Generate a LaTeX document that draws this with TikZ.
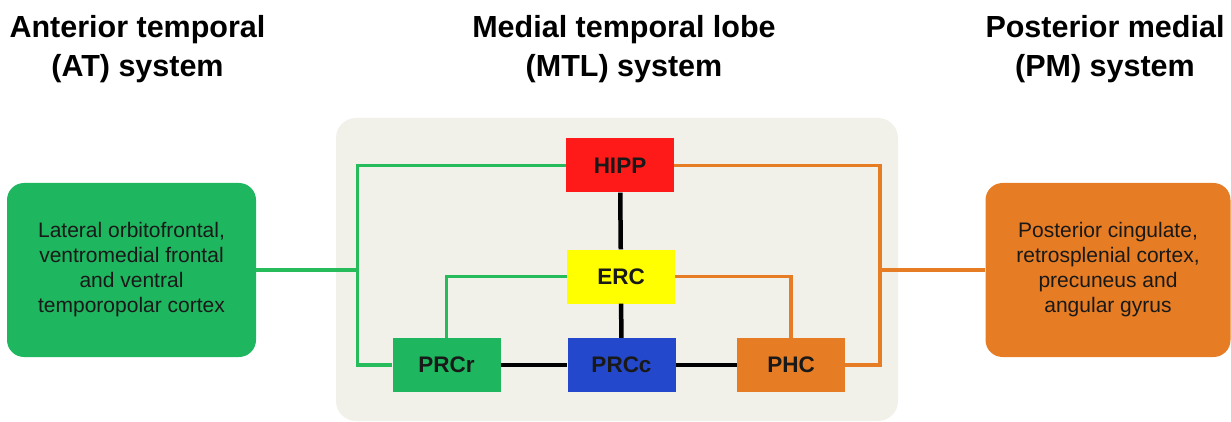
\documentclass[tikz,border=0pt]{standalone}
\usepackage{fontspec}
\setmainfont{Liberation Sans}
\definecolor{cgreen}{RGB}{30,183,95}
\definecolor{lgreen}{RGB}{38,188,92}
\definecolor{cred}{RGB}{255,26,26}
\definecolor{cyellow}{RGB}{255,255,0}
\definecolor{cblue}{RGB}{36,72,204}
\definecolor{corange}{RGB}{230,124,36}
\definecolor{cpanel}{RGB}{241,240,233}
\definecolor{ctext}{RGB}{25,25,25}
\begin{document}
\begin{tikzpicture}[x=1pt,y=-1pt,
  regbox/.style={rectangle, minimum width=108pt, minimum height=54pt, inner sep=0pt,
    font=\fontsize{22.5}{27}\selectfont\bfseries, text=ctext},
  sysbox/.style={rectangle, rounded corners=17pt, minimum width=249pt, minimum height=174pt,
    inner sep=0pt, align=center, font=\fontsize{21}{25}\selectfont, text=ctext},
  titletext/.style={align=center, font=\fontsize{30.5}{39}\selectfont\bfseries, anchor=north,
    inner sep=0pt, text=black},
  gline/.style={draw=lgreen, line width=3.8pt, line join=miter},
  oline/.style={draw=corange, line width=3.8pt, line join=miter},
  bline/.style={draw=black, line width=4.5pt}]
\useasboundingbox (0,0) rectangle (1231,422);
\fill[cpanel, rounded corners=20pt] (336,118) rectangle (898,421);

\node[titletext] (tat) at (137.5,15) {Anterior temporal\\(AT) system};
\node[titletext] (tmtl) at (624,15) {Medial temporal lobe\\(MTL) system};
\node[titletext] (tpm) at (1105,15) {Posterior medial\\(PM) system};

\node[regbox, fill=cred] (hipp) at (620,165.5) {HIPP};
\node[regbox, fill=cyellow] (erc) at (621,276.5) {ERC};
\node[regbox, fill=cgreen] (prcr) at (446.5,365) {PRCr};
\node[regbox, fill=cblue] (prcc) at (621.5,365) {PRCc};
\node[regbox, fill=corange] (phc) at (791,365) {PHC};

\node[sysbox, fill=cgreen] (at) at (131.5,270) {Lateral orbitofrontal,\\ventromedial frontal\\and ventral\\temporopolar cortex};
\node[sysbox, fill=corange, minimum width=245pt] (pm) at (1108,270) {Posterior cingulate,\\retrosplenial cortex,\\precuneus and\\angular gyrus};

\coordinate (gL) at (357.5,270);
\coordinate (oR) at (880,270);

\draw[gline] (hipp.west) -| (gL) |- (prcr.west);
\draw[gline] (at.east) -- (gL);
\draw[gline] (erc.west) -| (prcr.north);
\draw[oline] (hipp.east) -| (oR) |- (phc.east);
\draw[oline] (pm.west) -- (oR);
\draw[oline] (erc.east) -| (phc.north);

\draw[bline] (hipp) -- (erc);
\draw[bline] (erc) -- (prcc);
\draw[bline] (prcr) -- (prcc);
\draw[bline] (prcc) -- (phc);
\end{tikzpicture}
\end{document}
